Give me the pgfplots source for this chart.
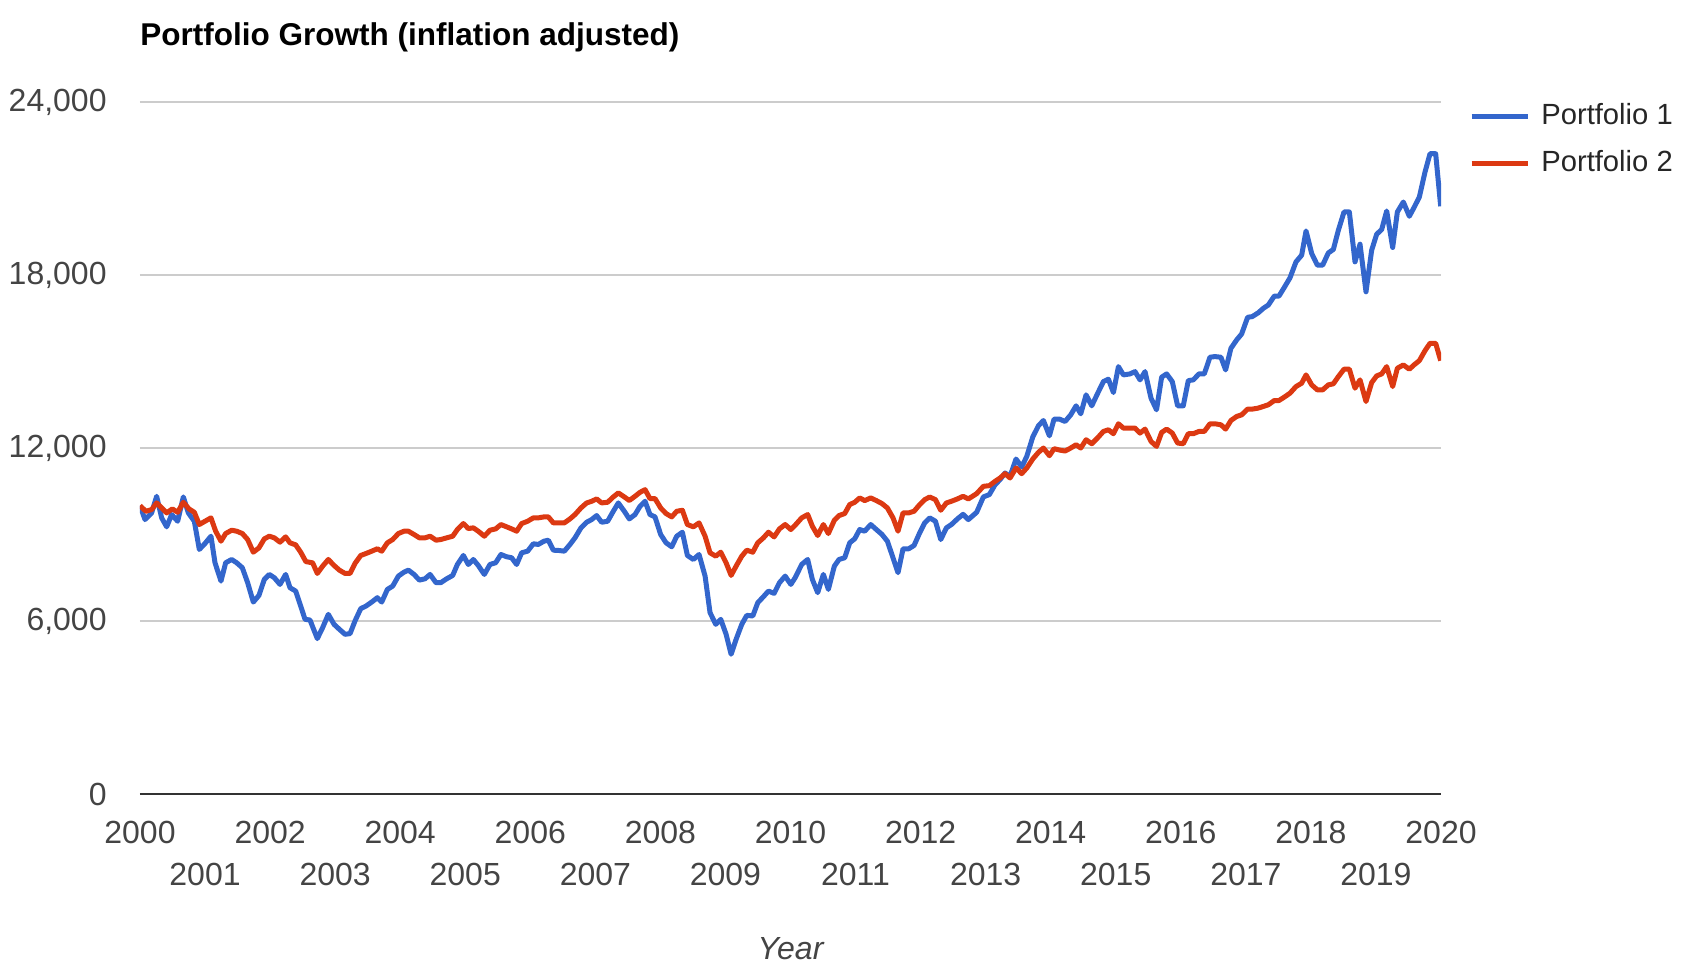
\documentclass[border=0pt]{standalone}
\usepackage{fontspec}
\setmainfont{Liberation Sans}
\usepackage{pgfplots}
\pgfplotsset{compat=1.18}
\definecolor{pblue}{HTML}{3366CC}
\definecolor{pred}{HTML}{DC3912}
\definecolor{tickgray}{HTML}{444444}
\definecolor{gridgray}{HTML}{CCCCCC}
\definecolor{basegray}{HTML}{333333}
\begin{document}
\begin{tikzpicture}
\path[use as bounding box] (0,0) rectangle (840.5pt,485.5pt);
\begin{axis}[
  at={(70pt,88.5pt)}, anchor=south west,
  scale only axis, width=650.5pt, height=346pt,
  xmin=2000, xmax=2020, ymin=0, ymax=24000,
  axis line style={draw=none},
  major tick length=0pt,
  ymajorgrids, grid style={gridgray, line width=0.7pt},
  ytick={0,6000,12000,18000,24000},
  xtick={2000,2002,...,2020},
  extra x ticks={2001,2003,...,2019},
  extra x tick style={xticklabel style={yshift=-21pt}, grid=none},
  /pgf/number format/.cd, 1000 sep={,}, assume math mode=true,
  /pgfplots/.cd,
  xticklabel={\pgfmathprintnumber[1000 sep={}]{\tick}},
  ticklabel style={font=\fontsize{16}{19}\selectfont, text=tickgray},
  yticklabel style={anchor=east, inner sep=0pt, xshift=-16.5pt},
  xticklabel style={anchor=center, inner sep=0pt, yshift=-19pt},
  scaled y ticks=false,
  title={Portfolio Growth (inflation adjusted)},
  title style={at={(0,1)}, anchor=base west, yshift=22pt, inner sep=0pt, font=\bfseries\fontsize{15.75}{19}\selectfont},
  xlabel={Year},
  xlabel style={at={(rel axis cs:0.5,0)}, anchor=center, yshift=-77.5pt, font=\itshape\fontsize{16}{19}\selectfont, text=tickgray},
  legend style={at={(rel axis cs:1.0213,1)}, anchor=north west, draw=none, fill=none, inner sep=0pt,
     row sep=9.5pt, column sep=5.5pt,
     nodes={inner sep=0pt, font=\fontsize{14.6}{18}\selectfont, text=black!85, text height=11pt, text depth=3pt}},
  legend cell align=left,
  legend image code/.code={\draw[#1, line width=2.6pt] (0pt,0pt) -- (28pt,0pt);},
]
\draw[basegray, line width=1pt] (axis cs:2000,0) -- (axis cs:2020,0);
\addplot[pblue, line width=2.5pt, line join=round] coordinates {
(2000.0,10000)(2000.077,9518)(2000.179,9750)(2000.256,10325)(2000.333,9577)(2000.41,9266)
(2000.487,9692)(2000.579,9460)(2000.666,10304)(2000.743,9750)(2000.835,9460)(2000.912,8481)
(2000.999,8688)(2001.091,8941)(2001.153,8020)(2001.245,7384)(2001.317,8020)(2001.409,8134)
(2001.486,8020)(2001.573,7847)(2001.655,7328)(2001.742,6657)(2001.829,6889)(2001.911,7442)
(2001.988,7615)(2002.065,7501)(2002.152,7269)(2002.239,7615)(2002.306,7155)(2002.393,7038)
(2002.47,6519)(2002.537,6058)(2002.613,6035)(2002.726,5390)(2002.808,5771)(2002.895,6231)
(2002.983,5885)(2003.065,5712)(2003.152,5539)(2003.229,5562)(2003.305,6000)(2003.393,6428)
(2003.475,6519)(2003.562,6657)(2003.649,6809)(2003.716,6657)(2003.803,7096)(2003.885,7211)
(2003.972,7557)(2004.059,7695)(2004.126,7764)(2004.213,7615)(2004.295,7418)(2004.382,7465)
(2004.459,7615)(2004.551,7328)(2004.623,7328)(2004.715,7465)(2004.807,7581)(2004.879,7961)
(2004.971,8273)(2005.047,7961)(2005.124,8134)(2005.2,7927)(2005.293,7615)(2005.38,7961)
(2005.467,8020)(2005.549,8307)(2005.636,8228)(2005.713,8193)(2005.79,7961)(2005.867,8366)
(2005.959,8422)(2006.046,8678)(2006.123,8655)(2006.21,8768)(2006.277,8803)(2006.354,8456)
(2006.441,8445)(2006.523,8422)(2006.61,8655)(2006.687,8884)(2006.779,9231)(2006.866,9425)
(2006.943,9518)(2007.02,9657)(2007.097,9425)(2007.189,9460)(2007.276,9806)(2007.353,10095)
(2007.445,9806)(2007.522,9541)(2007.61,9692)(2007.687,9979)(2007.764,10153)(2007.84,9692)
(2007.917,9611)(2008.004,9000)(2008.087,8712)(2008.174,8574)(2008.251,8941)(2008.338,9079)
(2008.415,8273)(2008.507,8134)(2008.594,8307)(2008.687,7557)(2008.763,6290)(2008.851,5885)
(2008.928,6058)(2009.01,5539)(2009.087,4847)(2009.164,5366)(2009.251,5885)(2009.328,6197)
(2009.42,6174)(2009.497,6636)(2009.584,6844)(2009.661,7038)(2009.748,6958)(2009.83,7328)
(2009.918,7557)(2010.005,7269)(2010.071,7500)(2010.172,7961)(2010.264,8134)(2010.336,7442)
(2010.418,6983)(2010.505,7615)(2010.582,7096)(2010.674,7903)(2010.746,8134)(2010.833,8193)
(2010.91,8712)(2010.987,8851)(2011.064,9172)(2011.141,9115)(2011.233,9346)(2011.32,9172)
(2011.407,9000)(2011.489,8768)(2011.576,8193)(2011.653,7675)(2011.73,8505)(2011.817,8505)
(2011.899,8619)(2011.986,9058)(2012.063,9403)(2012.14,9577)(2012.228,9460)(2012.31,8826)
(2012.397,9231)(2012.474,9346)(2012.566,9541)(2012.653,9700)(2012.734,9518)(2012.862,9771)
(2012.965,10304)(2013.057,10384)(2013.145,10729)(2013.221,10902)(2013.298,11134)(2013.375,11019)
(2013.467,11618)(2013.554,11341)(2013.632,11709)(2013.724,12380)(2013.811,12770)(2013.888,12954)
(2013.98,12424)(2014.052,13003)(2014.134,13003)(2014.221,12920)(2014.308,13151)(2014.39,13463)
(2014.462,13186)(2014.544,13843)(2014.631,13463)(2014.718,13878)(2014.81,14304)(2014.887,14386)
(2014.964,13923)(2015.041,14823)(2015.118,14535)(2015.219,14570)(2015.296,14650)(2015.373,14362)
(2015.45,14650)(2015.542,13729)(2015.627,13324)(2015.705,14456)(2015.782,14570)(2015.869,14304)
(2015.951,13463)(2016.038,13463)(2016.115,14338)(2016.192,14362)(2016.279,14570)(2016.361,14570)
(2016.448,15148)(2016.525,15171)(2016.617,15148)(2016.689,14708)(2016.771,15459)(2016.858,15746)
(2016.935,15954)(2017.027,16532)(2017.099,16558)(2017.191,16691)(2017.268,16843)(2017.345,16958)
(2017.437,17269)(2017.509,17269)(2017.591,17570)(2017.678,17900)(2017.771,18456)(2017.858,18688)
(2017.925,19528)(2018.012,18746)(2018.099,18342)(2018.181,18342)(2018.268,18767)(2018.345,18885)
(2018.422,19552)(2018.509,20186)(2018.591,20186)(2018.678,18456)(2018.755,19068)(2018.847,17418)
(2018.934,18860)(2019.011,19414)(2019.088,19577)(2019.165,20220)(2019.257,18954)(2019.329,20186)
(2019.421,20532)(2019.513,20037)(2019.585,20338)(2019.667,20705)(2019.754,21570)(2019.831,22206)
(2019.918,22206)(2019.995,20383)
};
\addlegendentry{Portfolio 1}
\addplot[pred, line width=2.5pt, line join=round] coordinates {
(2000.0,10000)(2000.09,9806)(2000.179,9864)(2000.256,10095)(2000.333,9922)(2000.41,9750)
(2000.497,9888)(2000.579,9771)(2000.666,10118)(2000.753,9888)(2000.835,9771)(2000.912,9346)
(2000.999,9460)(2001.091,9577)(2001.163,9115)(2001.245,8768)(2001.317,9034)(2001.409,9149)
(2001.486,9115)(2001.573,9034)(2001.655,8826)(2001.742,8387)(2001.829,8538)(2001.911,8849)
(2001.988,8941)(2002.065,8884)(2002.152,8734)(2002.239,8918)(2002.306,8711)(2002.393,8642)
(2002.47,8387)(2002.55,8060)(2002.654,8018)(2002.726,7650)(2002.808,7903)(2002.895,8134)
(2002.983,7927)(2003.065,7764)(2003.152,7650)(2003.229,7650)(2003.305,7996)(2003.393,8273)
(2003.475,8342)(2003.562,8422)(2003.649,8505)(2003.716,8422)(2003.803,8712)(2003.885,8826)
(2003.972,9034)(2004.059,9115)(2004.126,9115)(2004.213,9000)(2004.295,8884)(2004.382,8884)
(2004.459,8941)(2004.551,8803)(2004.623,8826)(2004.715,8884)(2004.807,8941)(2004.879,9172)
(2004.971,9380)(2005.047,9207)(2005.124,9231)(2005.2,9115)(2005.293,8941)(2005.38,9149)
(2005.467,9195)(2005.549,9346)(2005.636,9266)(2005.713,9195)(2005.79,9115)(2005.867,9380)
(2005.959,9460)(2006.046,9577)(2006.123,9577)(2006.21,9611)(2006.277,9611)(2006.354,9403)
(2006.441,9403)(2006.523,9403)(2006.61,9541)(2006.687,9692)(2006.779,9922)(2006.866,10095)
(2006.943,10153)(2007.02,10234)(2007.097,10095)(2007.189,10118)(2007.276,10304)(2007.353,10442)
(2007.445,10304)(2007.522,10180)(2007.61,10326)(2007.687,10463)(2007.764,10556)(2007.84,10245)
(2007.917,10245)(2008.004,9922)(2008.087,9726)(2008.174,9611)(2008.251,9806)(2008.338,9840)
(2008.415,9346)(2008.507,9266)(2008.594,9403)(2008.687,8941)(2008.763,8366)(2008.851,8249)
(2008.928,8387)(2009.01,8018)(2009.087,7581)(2009.164,7903)(2009.251,8249)(2009.328,8456)
(2009.42,8387)(2009.497,8712)(2009.584,8884)(2009.661,9079)(2009.748,8918)(2009.83,9195)
(2009.918,9346)(2010.005,9172)(2010.071,9320)(2010.172,9577)(2010.264,9692)(2010.336,9287)
(2010.418,8965)(2010.505,9346)(2010.582,9034)(2010.674,9494)(2010.746,9657)(2010.833,9726)
(2010.91,10037)(2010.987,10118)(2011.064,10269)(2011.141,10176)(2011.233,10269)(2011.32,10176)
(2011.407,10072)(2011.489,9922)(2011.576,9577)(2011.653,9115)(2011.73,9750)(2011.817,9750)
(2011.899,9806)(2011.986,10037)(2012.063,10210)(2012.14,10300)(2012.228,10210)(2012.31,9841)
(2012.397,10095)(2012.474,10153)(2012.566,10234)(2012.653,10326)(2012.734,10233)(2012.862,10418)
(2012.965,10671)(2013.057,10694)(2013.145,10844)(2013.221,10960)(2013.298,11110)(2013.375,10960)
(2013.467,11307)(2013.554,11110)(2013.632,11307)(2013.724,11618)(2013.811,11847)(2013.888,11999)
(2013.98,11733)(2014.052,11976)(2014.134,11930)(2014.221,11895)(2014.308,11999)(2014.39,12113)
(2014.462,11999)(2014.544,12286)(2014.631,12148)(2014.718,12344)(2014.81,12574)(2014.887,12633)
(2014.964,12495)(2015.041,12840)(2015.118,12690)(2015.219,12691)(2015.296,12691)(2015.373,12518)
(2015.45,12656)(2015.542,12228)(2015.627,12055)(2015.705,12539)(2015.782,12656)(2015.869,12518)
(2015.951,12172)(2016.038,12149)(2016.115,12495)(2016.192,12495)(2016.279,12575)(2016.361,12575)
(2016.448,12840)(2016.525,12840)(2016.617,12805)(2016.689,12656)(2016.771,12955)(2016.858,13093)
(2016.935,13150)(2017.027,13349)(2017.099,13349)(2017.191,13384)(2017.268,13441)(2017.345,13499)
(2017.437,13646)(2017.509,13646)(2017.591,13765)(2017.678,13900)(2017.771,14131)(2017.858,14248)
(2017.925,14535)(2018.012,14189)(2018.099,14016)(2018.181,14016)(2018.268,14189)(2018.345,14227)
(2018.422,14477)(2018.509,14733)(2018.591,14733)(2018.678,14075)(2018.755,14362)(2018.847,13612)
(2018.934,14269)(2019.011,14501)(2019.088,14570)(2019.165,14823)(2019.257,14131)(2019.329,14766)
(2019.421,14881)(2019.513,14733)(2019.585,14881)(2019.667,15030)(2019.754,15376)(2019.831,15632)
(2019.918,15632)(2019.995,15030)
};
\addlegendentry{Portfolio 2}
\end{axis}
\end{tikzpicture}
\end{document}
